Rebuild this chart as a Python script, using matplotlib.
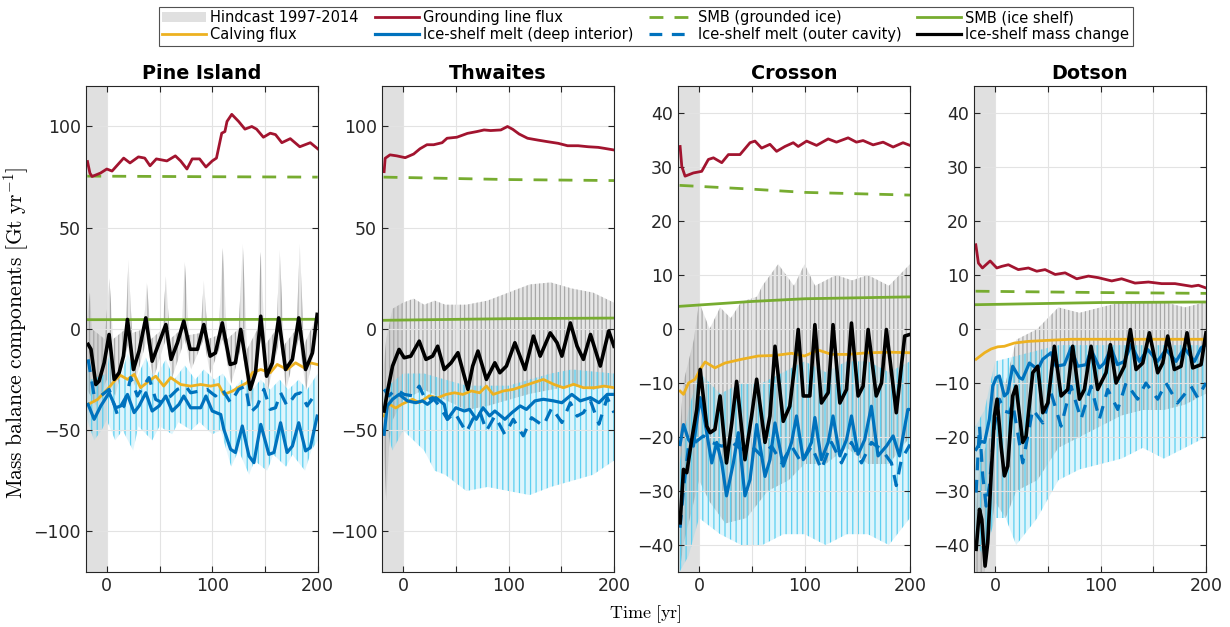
import numpy as np
import matplotlib
matplotlib.use("Agg")
import matplotlib.pyplot as plt
from matplotlib.lines import Line2D
from matplotlib.patches import Patch

plt.rcParams['mathtext.fontset'] = 'cm'
plt.rcParams['hatch.linewidth'] = 0.9

TITLES = ['Pine Island', 'Thwaites', 'Crosson', 'Dotson']
YLIMS = [(-120, 120), (-120, 120), (-45, 45), (-45, 45)]
YTICKS = [[-100, -50, 0, 50, 100], [-100, -50, 0, 50, 100],
          list(range(-40, 41, 10)), list(range(-40, 41, 10))]
HINDCAST = (-20, 0)

# ---------------- Pine Island ----------------
PI_GL = [(-18.3, 82.7), (-16, 77), (-14, 75.3), (-6, 77), (0, 79), (5, 78), (16, 84.4), (22, 82), (30, 85),
         (36, 84.4), (41, 80.6), (47, 84), (57, 83), (65, 85.5), (70, 83), (76, 79), (81, 84), (88, 84),
         (94, 80), (100, 83), (104, 84.4), (109, 96.7), (112, 97.5), (114, 102.5), (118.5, 106), (125, 102.5),
         (131, 98.7), (137.5, 100), (142, 98.7), (148.5, 94.7), (155, 96.7), (160, 96), (166, 92), (174, 94),
         (183, 90), (193, 92), (200, 89)]
PI_SMBG = [(-18.5, 75.5), (100, 75.2), (200, 75.0)]
PI_SMBS = [(-18.5, 4.6), (200, 4.8)]
PI_CALV = [(-17.7, -37.2), (-8.8, -34.8), (0.6, -29.8), (8.5, -24.9), (13, -22.9), (19.6, -24.9), (26, -22.4),
           (32, -29), (40, -25.7), (46.4, -23.3), (54, -28.2), (60.6, -24), (70, -27.4), (79.5, -28.2),
           (89, -27.4), (98.5, -28.2), (106, -27.4), (111, -32.3), (119, -30.7), (127, -28.2), (133, -26.5),
           (138, -21.6), (146, -20), (155, -21.6), (161.6, -17.5), (171, -20), (179, -16.7), (187, -19.1),
           (193, -16.7), (199.5, -17.5)]
PI_MELTD = [(-17.7, -37.2), (-12, -44.6), (-5.7, -38), (2.2, -31.5), (8.5, -38.9), (13.3, -38), (19.6, -32.3),
            (25.9, -41.3), (30.6, -38), (37, -31.5), (43, -40.5), (49.6, -38), (56, -33.1), (62, -40.5),
            (68.5, -37.2), (73, -33.1), (79.5, -38.9), (89, -38.9), (94, -33.1), (100, -40.5), (108, -42.2),
            (111, -49.6), (117.4, -59.4), (122, -61), (128.5, -47.9), (134.8, -62.7), (139.5, -66), (146, -47.1),
            (153.7, -61.9), (158.5, -61), (164.8, -46.3), (171, -61), (176, -57.8), (182, -46.3), (188.5, -60.2),
            (193, -58.6), (199.5, -43)]
PI_MELTO = [(-17.7, -15), (-12, -33), (-5.7, -33), (2.2, -29.8), (10, -42.2), (16.4, -38), (22.7, -24),
            (29, -33.1), (33.8, -29), (40, -24), (46.4, -34.8), (52.7, -36.4), (60.6, -33.1), (67, -29.8),
            (74.8, -28.2), (79.5, -31.5), (87.4, -30.7), (95, -29.8), (103, -33.1), (109.5, -29.8), (117.4, -36.4),
            (125, -29.8), (131.6, -28.2), (136, -41.3), (142.7, -38), (149, -29.8), (155, -39.7), (160, -38.9),
            (164.8, -31.5), (171, -38), (179, -32.3), (183.7, -31.5), (190, -38), (199.5, -30.7)]
PI_MASS = [(-17.7, -7.6), (-15, -10), (-10.4, -27.4), (-7.3, -25.7), (-2.5, -16.7), (2.2, -2.7), (7, -24.9),
           (11.7, -21.6), (15.8, -13.4), (19.6, 4.7), (25.3, -20), (30.6, -10.9), (37, 5.5), (43, -15.9),
           (49.6, -6.8), (56, 2.2), (61, -15), (67, -6.8), (73, 3.9), (79, -10), (86, -10), (92, 2.2), (98, -13.4),
           (103, -11.8), (109.5, 3), (117, -17.5), (122, -16.7), (127, -0.2), (136, -29.8), (141, -21.6),
           (146, 6.3), (151.5, -23.3), (157, -16.7), (163, 5.5), (169.5, -20), (176, -15), (182, 5.5),
           (188.5, -20), (195, -11.8), (199.5, 7.2)]
PI_RAW_MASS_HI = [(-18.5, 5), (-16, 18), (-14, 0), (-2, -5), (2.5, 25), (6, -5), (18, 0), (20.5, 34), (24, -2),
                  (35, 0), (38, 23), (42, -5), (53, 0), (56, 26), (60, -5), (71, 0), (74, 33), (78, -3), (89, -2),
                  (92, 24), (96, -5), (106, -3), (110, 40), (114, -5), (125, 0), (129, 42), (133, -10), (143, 0),
                  (146, 38), (150, -8), (161, 0), (164, 39), (168, -8), (180, 0), (183, 42), (187, -8), (198, 5),
                  (200, 10)]
PI_RAW_MASS_LO = [(-18.5, -30), (-10, -38), (0, -25), (8, -33), (20, -8), (26, -28), (38, -5), (44, -25),
                  (56, -5), (62, -24), (74, -5), (80, -20), (92, -5), (98, -22), (110, -5), (118, -27), (128, -8),
                  (136, -40), (146, -5), (152, -32), (164, -5), (170, -30), (182, -5), (189, -30), (200, -3)]
PI_RAW_MELT_HI = [(-18.5, -18), (-15, -25), (0, -22), (3, -10), (10, -28), (20, -12), (28, -25), (37, -14),
                  (45, -25), (56, -15), (64, -25), (74, -18), (84, -25), (92, -20), (102, -25), (110, -22),
                  (120, -30), (128, -25), (138, -30), (146, -25), (155, -30), (164, -25), (172, -30), (182, -25),
                  (190, -30), (200, -22)]
PI_RAW_MELT_LO = [(-18.5, -45), (-12, -55), (-5, -50), (0, -45), (8, -55), (15, -50), (25, -60), (30, -48),
                  (43, -55), (50, -48), (62, -52), (68, -46), (80, -50), (88, -46), (100, -52), (108, -50),
                  (118, -68), (125, -60), (135, -72), (140, -65), (152, -70), (158, -62), (170, -68), (176, -62),
                  (188, -70), (194, -60), (200, -55)]

# ---------------- Thwaites ----------------
TH_GL = [(-18, 77.7), (-17, 84.3), (-12.4, 86), (-6, 85.5), (2, 84.6), (10, 86.4), (16, 89), (22.6, 91), (29, 91),
         (37, 92), (41.7, 94.2), (51, 94.7), (61, 96.6), (70, 97.5), (76.8, 98.3), (83, 98), (92.7, 98.3),
         (99, 100), (104, 98.6), (110, 96.3), (118, 94.2), (127.7, 93.3), (137, 92.5), (147, 91.7), (156, 90.5),
         (166, 90.5), (175.5, 90), (185, 89.7), (191, 89.2), (200, 88.4)]
TH_SMBG = [(-18.5, 75.0), (100, 73.8), (200, 73.3)]
TH_SMBS = [(-18.5, 4.3), (100, 5.1), (200, 5.4)]
TH_CALV = [(-18, -43), (-13.4, -37), (-7, -39), (-0.6, -37), (9, -34.7), (15.3, -36.4), (24.8, -33), (32.8, -34),
           (40.8, -32.3), (48.7, -31.5), (56.7, -32.3), (64.7, -30.6), (72.6, -31.5), (79, -28.2), (85.4, -32.3),
           (95, -30.6), (104.5, -29.8), (114, -28.2), (123.6, -26.5), (133, -24.9), (142.7, -27.3), (152, -29),
           (161.8, -27.3), (171, -29), (181, -29), (190.5, -28.2), (200, -29)]
TH_MELTD = [(-18, -52), (-15, -38), (-10, -34.7), (-3.8, -32.3), (4.1, -35.5), (12, -36.4), (18.5, -35.5),
            (23, -37.2), (31, -33.9), (39, -37.2), (42, -44.6), (50, -38.9), (58, -40.5), (63, -39.7),
            (69.4, -44.6), (75.8, -38.9), (82, -42.9), (87, -40.5), (96.5, -44.6), (103, -41.4), (111, -38),
            (117, -39.7), (125, -35.5), (133, -34.7), (142.7, -35.5), (150.6, -36.4), (160, -32.3), (168, -35.5),
            (177.7, -33.9), (185.7, -36.4), (193.6, -32.3), (200, -32.3)]
TH_MELTO = [(-18, -29.8), (-13.4, -33), (-7, -29.8), (1, -32.3), (9, -33), (15.3, -28.2), (21.7, -35.5),
            (28, -33.9), (34.4, -38), (42, -44.6), (49, -41.3), (60, -51), (66, -44.6), (72.6, -40.5), (79, -50.3),
            (87, -43), (96.5, -52), (104.5, -44.6), (114, -52.8), (121.8, -43.8), (133, -47.8), (141, -38.9),
            (150.6, -46.2), (158.6, -36.4), (165, -43), (171, -41.3), (177.7, -35.5), (185.7, -47), (193.6, -33.9),
            (200, -41.3)]
TH_MASS = [(-18, -40.5), (-15, -31.4), (-10, -18.3), (-3.8, -10.1), (1, -14.2), (7.3, -13.4), (15.3, -6),
           (21.7, -15), (28, -13.4), (32.8, -8.5), (39, -20), (45.5, -16.7), (52, -11.7), (58, -23.2),
           (61.5, -29.8), (66, -18.3), (71, -10.9), (79, -24.9), (87, -16.7), (91.7, -21.6), (98, -18.3),
           (106, -6.8), (115.6, -20), (123.6, -3.5), (130, -13.4), (139.5, -1.9), (146, -6.8), (150.6, -13.4),
           (158.6, 3), (165, -8.5), (171, -15), (177.7, -2.7), (187, -18.3), (195, -1), (200, -8.5)]
TH_RAW_MASS_HI = [(-18.5, -20), (-16, -5), (-10, 10), (0, 13), (10, 15), (20, 12), (30, 14), (40, 12), (60, 12),
                  (80, 14), (100, 18), (120, 22), (140, 23), (160, 20), (180, 18), (200, 13)]
TH_RAW_MASS_LO = [(-18.5, -55), (-16, -85), (-13, -55), (-10, -45), (0, -35), (20, -30), (40, -35), (60, -40),
                  (80, -38), (100, -35), (120, -32), (140, -30), (160, -28), (180, -30), (200, -28)]
TH_RAW_MELT_HI = [(-18.5, -30), (0, -22), (20, -22), (40, -25), (60, -28), (100, -28), (140, -22), (160, -20),
                  (200, -22)]
TH_RAW_MELT_LO = [(-18.5, -45), (-10, -60), (0, -50), (10, -55), (20, -60), (30, -70), (40, -72), (60, -80),
                  (80, -78), (100, -80), (120, -82), (140, -78), (160, -75), (180, -72), (200, -65)]

# ---------------- Crosson ----------------
CR_GL = [(-18, 33.8), (-16.4, 30.1), (-13.3, 28.3), (-5.4, 28.9), (2.5, 29.2), (8.8, 31.4), (13.6, 31.7),
         (21.5, 30.8), (27.8, 32.3), (38.8, 32.3), (48.3, 34.5), (53, 34.8), (59.3, 33.5), (67.2, 34.2),
         (73.5, 32.9), (81.4, 33.8), (89.3, 34.5), (94, 33.8), (102, 34.8), (111.4, 34), (122.4, 35.2),
         (130.3, 34.6), (141.3, 35.4), (149.2, 34.6), (155.5, 34.9), (165, 34.1), (174.5, 34.6), (184, 33.7),
         (193.4, 34.5), (200, 34)]
CR_SMBG = [(-18.5, 26.6), (50, 25.9), (100, 25.3), (200, 24.8)]
CR_SMBS = [(-18.5, 4.2), (50, 5.1), (100, 5.6), (200, 5.95)]
CR_CALV = [(-18, -11.5), (-14.8, -12.1), (-10, -10), (-3.8, -9.3), (1, -7.5), (5.7, -6.1), (15, -7.2),
           (24.6, -6.3), (40.4, -5.6), (56, -5), (72, -4.9), (87.7, -4.5), (100, -5), (113, -3.9), (125.6, -4.7),
           (141, -4.7), (160, -4.4), (182, -4.3), (200, -4.4)]
CR_MELTD = [(-18, -21.4), (-14.8, -17.7), (-10, -20.5), (-5.4, -21.7), (1, -12.7), (5.7, -17.4), (12, -24.8),
            (16.7, -21), (21.5, -24.8), (26, -30.9), (32.5, -24.8), (37.2, -19.2), (43.5, -30.9), (48.3, -27.9),
            (54.6, -17.7), (62.5, -27.3), (67.2, -24.2), (72, -17.4), (79.8, -25.4), (87.7, -21), (92.4, -16.1),
            (98.8, -24.2), (106.6, -21), (109.8, -16.4), (116, -24.2), (122.4, -21), (127, -16.1), (133.5, -23.5),
            (139.8, -20.5), (144.5, -16.1), (150.8, -23.2), (157, -20.5), (163.4, -14.3), (169.7, -23.5),
            (177.6, -21.7), (184, -19.8), (190, -23.5), (198, -14.9), (200, -14.9)]
CR_MELTO = [(-18, -36.8), (-14.8, -29.7), (-10, -21.7), (-3.8, -21), (4.1, -19.8), (12, -21), (21.5, -21.7),
            (31, -21), (40.4, -22.3), (50, -21.7), (59.3, -23.5), (68.8, -21.7), (78.2, -24.8), (87.7, -21.7),
            (97.2, -24.8), (106.6, -21.7), (116, -26), (125.6, -21), (135, -24.8), (144.5, -21), (154, -24.8),
            (163.4, -21), (173, -22.3), (182.4, -24.8), (187, -29), (191.8, -24.2), (200, -21.4)]
CR_MASS = [(-18, -35.9), (-14.8, -26), (-11.7, -26.6), (-7, -20.5), (-2.2, -14.9), (1, -7.5), (7.3, -18),
           (10.4, -19.2), (15, -18.6), (19.9, -12.4), (26, -24.8), (31, -17.4), (35.6, -9.7), (43.5, -24.2),
           (49.8, -16.1), (54.6, -9.3), (62.5, -21), (67.2, -16.1), (72, -3.2), (79.8, -17.1), (86, -14.3),
           (90.9, -6.3), (94, -0.1), (98.8, -12.4), (105, -12.4), (109.8, 0.8), (116, -13.7), (122.4, -11.8),
           (127, 0.8), (133.5, -13.7), (139.8, -11.2), (144.5, 1.1), (150.8, -12.4), (155.5, -10.6), (160.3, -0.1),
           (168, -12.4), (173, -10), (177.6, -0.1), (187, -15.5), (191.8, -6.9), (195, -1.3), (200, -1)]
CR_RAW_MASS_HI = [(-18.5, -20), (-15, -10), (-5, -2), (0, 5), (10, 0), (20, 4), (30, 2), (40, 5), (55, 6),
                  (60, 8), (75, 12), (90, 8), (100, 12), (110, 8), (130, 10), (145, 9), (160, 10), (180, 8),
                  (200, 12)]
CR_RAW_MASS_LO = [(-18.5, -45), (-15, -40), (-5, -32), (0, -28), (10, -32), (25, -36), (45, -35), (65, -30),
                  (85, -28), (100, -25), (120, -25), (140, -22), (160, -25), (180, -25), (200, -20)]
CR_RAW_MELT_HI = [(-18.5, -25), (-10, -15), (0, -8), (20, -12), (40, -10), (60, -10), (80, -8), (100, -6),
                  (120, -8), (140, -6), (160, -6), (180, -8), (200, -6)]
CR_RAW_MELT_LO = [(-18.5, -45), (-10, -42), (0, -35), (20, -38), (40, -40), (60, -40), (80, -38), (100, -38),
                  (120, -40), (140, -38), (160, -38), (180, -40), (200, -35)]

# ---------------- Dotson ----------------
DO_GL = [(-18.3, 15.6), (-15.8, 12.2), (-12, 11.3), (-4.7, 12.6), (1.6, 11.3), (6.3, 11.6), (12.6, 11.9),
         (22, 11), (31.6, 11.3), (39.5, 10.7), (47.4, 11), (57, 10.1), (66.4, 10.4), (77.4, 9.3), (88.5, 9.8),
         (98, 9.5), (110.6, 8.9), (120, 9.3), (132.7, 8.5), (145.4, 8.7), (158, 8.4), (170.6, 8.4), (186.4, 7.9),
         (192.8, 8.1), (200, 7.6)]
DO_SMBG = [(-18.5, 7.0), (100, 6.75), (200, 6.6)]
DO_SMBS = [(-18.5, 4.5), (100, 4.9), (200, 5.0)]
DO_CALV = [(-18, -5.6), (-10, -4.4), (-3.8, -3.7), (2.5, -3.3), (8.8, -3.2), (18.3, -2.6), (31, -2.3), (50, -2.1),
           (72, -1.9), (103.6, -1.9), (135, -1.9), (167, -1.9), (200, -1.9)]
DO_MELTD = [(-18, -22.3), (-13.3, -20.8), (-10, -21), (-5.4, -16.7), (-2.2, -10.6), (1, -9), (4, -8.7),
            (8.8, -12.4), (12, -11.8), (16.7, -6.9), (23, -9), (26, -9.3), (32.5, -6.3), (40.4, -7.5), (45.2, -5.6),
            (53, -4.4), (57.8, -6.9), (65.7, -6.6), (72, -3.5), (78.4, -6.9), (86.3, -6.6), (91, -3.8), (99, -7.2),
            (103.6, -6.3), (110, -3.5), (116, -6.6), (122.6, -6), (129, -2.9), (136.8, -6), (144.7, -3.8),
            (154, -6), (162, -3.8), (171.6, -6), (179.5, -3.5), (189, -6), (195.3, -3.5), (200, -2.9)]
DO_MELTO = [(-18, -30.3), (-14.8, -18), (-11.7, -27.2), (-8.5, -32.8), (-5.4, -29), (-0.6, -18), (4.1, -13),
            (8.8, -15.2), (13.6, -15.5), (16.7, -13.7), (26.2, -24.8), (31, -19.8), (35.7, -14.9), (45.2, -17.4),
            (53, -11.8), (62.6, -18), (72, -10.6), (81.5, -16.7), (91, -10.6), (98.9, -16.7), (106.8, -11.2),
            (116.3, -14.9), (124.2, -10), (135.2, -13), (143, -10), (154.2, -13), (162, -10), (173, -13.7),
            (185.8, -10.6), (192, -12.7), (200, -10)]
DO_MASS = [(-18, -40.8), (-14.8, -33.4), (-12.6, -35.3), (-9.5, -43.9), (-7, -39.6), (-3.8, -27.2), (-0.6, -16.1),
           (1.9, -13), (5.7, -21.7), (8.8, -27.2), (12, -25.4), (16.7, -12.4), (19.9, -10.6), (26.2, -21),
           (29.4, -19.8), (35.7, -8.1), (40.4, -6.9), (45.2, -15.5), (50, -13.7), (56.2, -3.2), (62.6, -12.4),
           (68.9, -11.2), (73.6, -3.2), (80, -13), (84.7, -11.2), (91, -3.2), (97.3, -11.2), (105.2, -8.1),
           (109.3, -2.9), (114.7, -10), (122.6, -6.9), (128.3, -0.1), (133.7, -7.5), (140, -6.3), (146.3, -0.7),
           (154.2, -8.1), (159, -6.3), (163.7, -1.3), (170, -7.5), (176.3, -6.9), (182, -0.7), (187.4, -7.2),
           (195.3, -6.6), (200, -0.7)]
DO_RAW_MASS_HI = [(-18.5, -35), (-15, -25), (-5, -20), (0, -8), (10, -10), (20, -2), (40, 0), (60, 4), (80, 3),
                  (100, 4), (120, 5), (140, 5), (160, 5), (180, 4), (200, 5)]
DO_RAW_MASS_LO = [(-18.5, -45), (-10, -45), (0, -32), (10, -35), (20, -30), (40, -28), (60, -22), (80, -20),
                  (100, -18), (120, -16), (140, -15), (160, -15), (180, -14), (200, -12)]
DO_RAW_MELT_HI = [(-18.5, -18), (-10, -15), (0, -6), (20, -5), (60, -3), (100, -3), (200, -3)]
DO_RAW_MELT_LO = [(-18.5, -40), (-10, -42), (0, -35), (10, -35), (20, -40), (40, -35), (60, -28), (80, -26),
                  (100, -25), (120, -24), (140, -22), (160, -24), (180, -22), (200, -20)]

PANEL_DATA = [
    dict(gl=PI_GL, smbg=PI_SMBG, smbs=PI_SMBS, calv=PI_CALV, meltd=PI_MELTD, melto=PI_MELTO, mass=PI_MASS,
         rmh=PI_RAW_MASS_HI, rml=PI_RAW_MASS_LO, rch=PI_RAW_MELT_HI, rcl=PI_RAW_MELT_LO),
    dict(gl=TH_GL, smbg=TH_SMBG, smbs=TH_SMBS, calv=TH_CALV, meltd=TH_MELTD, melto=TH_MELTO, mass=TH_MASS,
         rmh=TH_RAW_MASS_HI, rml=TH_RAW_MASS_LO, rch=TH_RAW_MELT_HI, rcl=TH_RAW_MELT_LO),
    dict(gl=CR_GL, smbg=CR_SMBG, smbs=CR_SMBS, calv=CR_CALV, meltd=CR_MELTD, melto=CR_MELTO, mass=CR_MASS,
         rmh=CR_RAW_MASS_HI, rml=CR_RAW_MASS_LO, rch=CR_RAW_MELT_HI, rcl=CR_RAW_MELT_LO),
    dict(gl=DO_GL, smbg=DO_SMBG, smbs=DO_SMBS, calv=DO_CALV, meltd=DO_MELTD, melto=DO_MELTO, mass=DO_MASS,
         rmh=DO_RAW_MASS_HI, rml=DO_RAW_MASS_LO, rch=DO_RAW_MELT_HI, rcl=DO_RAW_MELT_LO),
]

C_RED = '#A2142F'
C_GREEN = '#77AC30'
C_ORANGE = '#EDB120'
C_BLUE = '#0072BD'
C_GREY = '#A8A8A8'
C_CYAN = '#5CCFF0'
C_SHADE = '#E0E0E0'


def tv(series):
    t, v = zip(*series)
    return np.array(t), np.array(v)


def band(ax, hi, lo, color, face_alpha, z, hatch):
    th, vh = tv(hi)
    tl, vl = tv(lo)
    xs = np.concatenate([th, tl[::-1]])
    ys = np.concatenate([vh, vl[::-1]])
    ax.fill(xs, ys, facecolor=color, alpha=face_alpha, lw=0, zorder=z)
    ax.fill(xs, ys, facecolor='none', edgecolor=color, hatch=hatch, lw=0, zorder=z + 0.01)


fig = plt.figure(figsize=(12.3, 6.27), dpi=100)
W, H = 1230, 627
lefts = [85.7, 382, 678, 974]
for i, (title, d) in enumerate(zip(TITLES, PANEL_DATA)):
    ax = fig.add_axes([lefts[i] / W, 1 - 572 / H, 232 / W, 486 / H])
    ax.axvspan(*HINDCAST, color=C_SHADE, lw=0, zorder=0.5)
    band(ax, d['rmh'], d['rml'], C_GREY, 0.28, 1, '||||')
    band(ax, d['rch'], d['rcl'], C_CYAN, 0.2, 1.1, '|||')
    ax.plot(*tv(d['smbg']), color=C_GREEN, lw=2, dashes=(5, 4), zorder=3)
    ax.plot(*tv(d['smbs']), color=C_GREEN, lw=2, zorder=3)
    ax.plot(*tv(d['gl']), color=C_RED, lw=2, zorder=3)
    ax.plot(*tv(d['calv']), color=C_ORANGE, lw=2, zorder=3)
    ax.plot(*tv(d['melto']), color=C_BLUE, lw=2.3, dashes=(4, 3), zorder=4)
    ax.plot(*tv(d['meltd']), color=C_BLUE, lw=2.3, zorder=4)
    ax.plot(*tv(d['mass']), color='black', lw=2.6, zorder=5)
    ax.set_xlim(-20, 200)
    ax.set_ylim(*YLIMS[i])
    ax.set_xticks([0, 50, 100, 150, 200])
    ax.set_xticklabels(['0', '', '100', '', '200'])
    ax.set_yticks(YTICKS[i])
    ax.grid(True, color='#E3E3E3', lw=0.8)
    for gl in ax.get_xgridlines() + ax.get_ygridlines():
        gl.set_zorder(0.6)
    ax.tick_params(direction='in', top=True, right=True, labelsize=12.5, length=4, color='#262626',
                   labelcolor='#262626')
    for s in ax.spines.values():
        s.set_color('#262626')
        s.set_linewidth(0.8)
        s.set_zorder(10)
    ax.set_title(title, fontsize=13.8, fontweight='bold', pad=5)

fig.text(0.013, 0.47, r'$\mathrm{Mass\ balance\ components\ [Gt\ yr^{-1}]}$', rotation=90,
         ha='center', va='center', fontsize=15.5)
fig.text(0.525, 0.021, r'$\mathrm{Time\ [yr]}$', ha='center', va='center', fontsize=13)

handles = [
    Patch(facecolor=C_SHADE, edgecolor='none', label='Hindcast 1997-2014'),
    Line2D([], [], color=C_ORANGE, lw=2, label='Calving flux'),
    Line2D([], [], color=C_RED, lw=2, label='Grounding line flux'),
    Line2D([], [], color=C_BLUE, lw=2.3, label='Ice-shelf melt (deep interior)'),
    Line2D([], [], color=C_GREEN, lw=2, dashes=(5, 4), label='SMB (grounded ice)'),
    Line2D([], [], color=C_BLUE, lw=2.3, dashes=(4, 3), label='Ice-shelf melt (outer cavity)'),
    Line2D([], [], color=C_GREEN, lw=2, label='SMB (ice shelf)'),
    Line2D([], [], color='black', lw=2.3, label='Ice-shelf mass change'),
]
leg = fig.legend(handles=handles, ncol=4, loc='center', bbox_to_anchor=(0.525, 0.958), fontsize=10.5,
                 frameon=True, fancybox=False, edgecolor='#262626', handlelength=3.0, handletextpad=0.3,
                 columnspacing=1.1, borderpad=0.25, labelspacing=0.15)
leg.get_frame().set_linewidth(0.8)

fig.savefig('out.png', dpi=100)
